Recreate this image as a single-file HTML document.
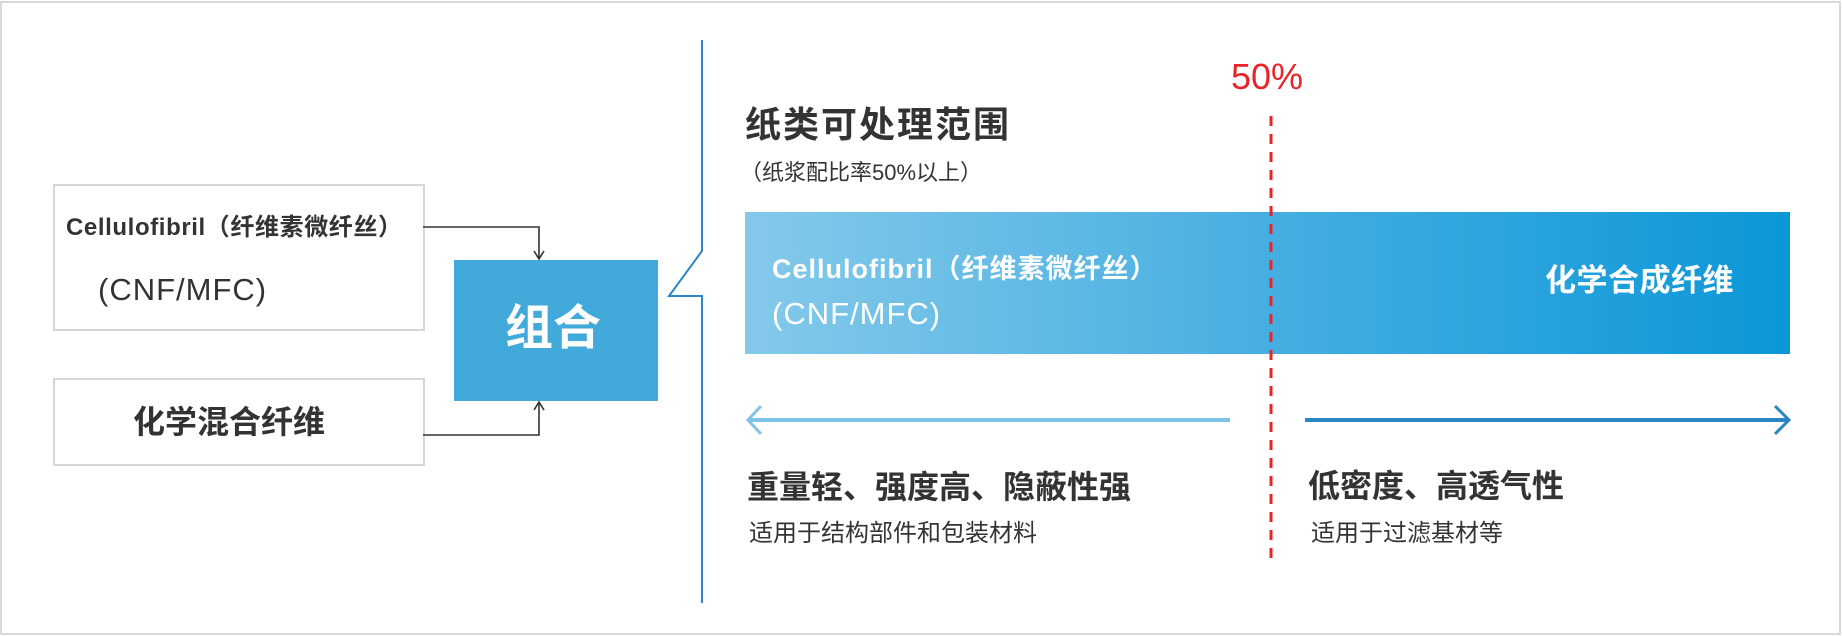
<!DOCTYPE html>
<html><head><meta charset="utf-8"><style>
body{margin:0;width:1842px;height:636px;background:#fff;position:relative;overflow:hidden;font-family:"Liberation Sans","Noto Sans CJK SC",sans-serif;color:#333}
.a{position:absolute;white-space:nowrap;line-height:1}
</style></head><body>
<div style="position:absolute;left:0;top:1px;width:1837px;height:630px;border:2px solid #d9d9d9"></div>
<div class="a" style="left:53px;top:184px;width:368px;height:143px;border:2px solid #d6d6d6"></div>
<div class="a" style="left:53px;top:378px;width:368px;height:84px;border:2px solid #d6d6d6"></div>
<div class="a" style="left:454px;top:260px;width:204px;height:141px;background:#42aadb"></div>
<svg class="a" style="left:0;top:0" width="1842" height="636">
<defs><linearGradient id="g" x1="0" x2="1"><stop offset="0" stop-color="#84c9ea"/><stop offset="0.55" stop-color="#40ace0"/><stop offset="1" stop-color="#0b97d7"/></linearGradient></defs>
<polyline points="423,227 539,227 539,258" fill="none" stroke="#333" stroke-width="1.6"/>
<polyline points="534,251 539,259 544,251" fill="none" stroke="#333" stroke-width="1.6"/>
<polyline points="423,435 539,435 539,403" fill="none" stroke="#333" stroke-width="1.6"/>
<polyline points="534,410 539,402 544,410" fill="none" stroke="#333" stroke-width="1.6"/>
<polyline points="702,40 702,251 669,296 702,296 702,603" fill="none" stroke="#2b87c4" stroke-width="2"/>
<rect x="745" y="212" width="1045" height="142" fill="url(#g)"/>
<line x1="1271" y1="116" x2="1271" y2="566" stroke="#e8242a" stroke-width="3" stroke-dasharray="10,8"/>
<line x1="748" y1="420" x2="1230" y2="420" stroke="#7fc4e8" stroke-width="4"/>
<polyline points="761,406 748,420 761,434" fill="none" stroke="#7fc4e8" stroke-width="3"/>
<line x1="1305" y1="420" x2="1788" y2="420" stroke="#2b87c4" stroke-width="4"/>
<polyline points="1775,406 1789,420 1775,434" fill="none" stroke="#2b87c4" stroke-width="3"/>
</svg>
<div class="a" style="left:66px;top:216px;font-size:24px;letter-spacing:0.6px;font-weight:bold;color:#333">Cellulofibril（纤维素微纤丝）</div>
<div class="a" style="left:98px;top:274px;font-size:31px;letter-spacing:1px;color:#333">(CNF/MFC)</div>
<div class="a" style="left:133px;top:406px;font-size:32px;font-weight:bold;color:#333">化学混合纤维</div>
<div class="a" style="left:505px;top:305px;font-size:48px;font-weight:bold;color:#fff">组合</div>
<div class="a" style="left:745px;top:107px;font-size:36px;letter-spacing:2px;font-weight:bold;color:#333">纸类可处理范围</div>
<div class="a" style="left:740px;top:162px;font-size:22px;color:#333">（纸浆配比率50%以上）</div>
<div class="a" style="left:1231px;top:59px;font-size:36px;color:#e8242a">50%</div>
<div class="a" style="left:772px;top:256px;font-size:27px;letter-spacing:1px;font-weight:bold;color:#fff">Cellulofibril（纤维素微纤丝）</div>
<div class="a" style="left:772px;top:298px;font-size:31px;letter-spacing:1px;color:#fff">(CNF/MFC)</div>
<div class="a" style="left:1545px;top:265px;font-size:31px;letter-spacing:0.5px;font-weight:bold;color:#fff">化学合成纤维</div>
<div class="a" style="left:747px;top:471px;font-size:32px;font-weight:bold;color:#333">重量轻、强度高、隐蔽性强</div>
<div class="a" style="left:749px;top:522px;font-size:24px;color:#333">适用于结构部件和包装材料</div>
<div class="a" style="left:1308px;top:470px;font-size:32px;font-weight:bold;color:#333">低密度、高透气性</div>
<div class="a" style="left:1311px;top:522px;font-size:24px;color:#333">适用于过滤基材等</div>
</body></html>
